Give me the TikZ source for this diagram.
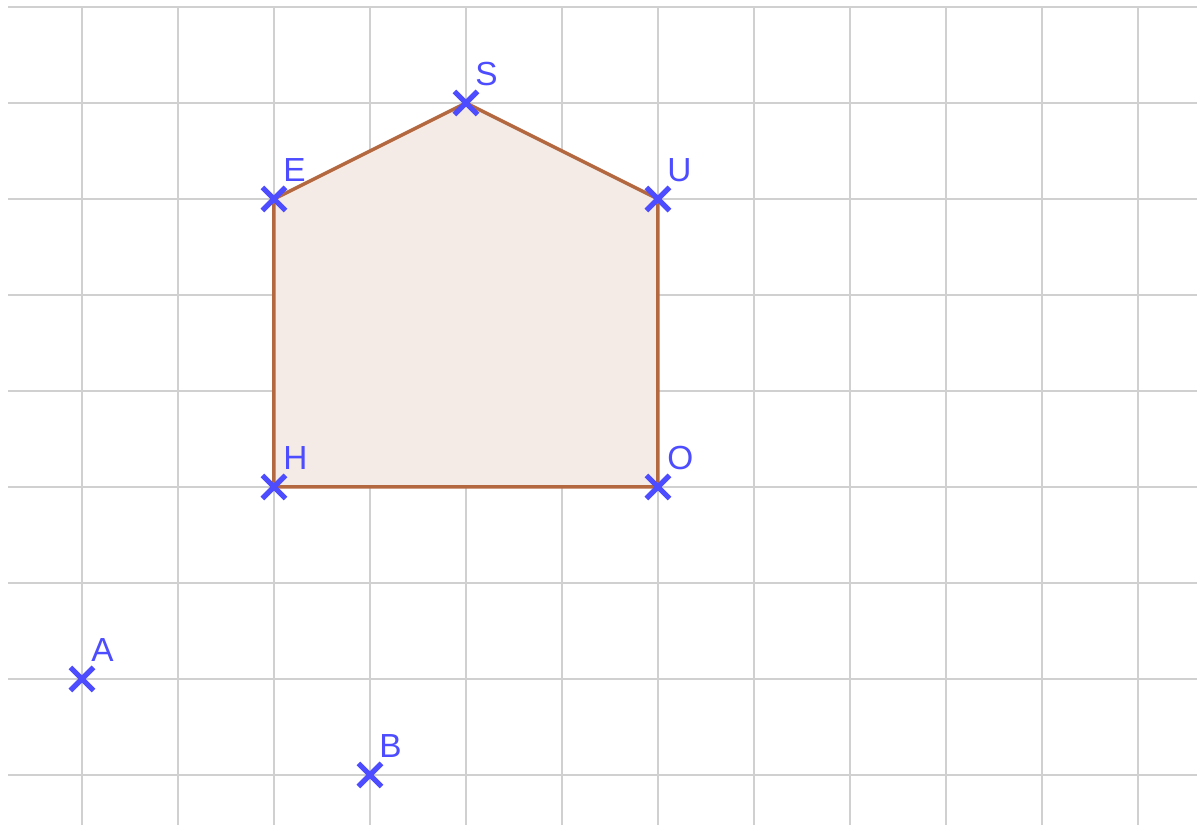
\documentclass[tikz,border=0pt]{standalone}
\usepackage{fontspec}
\setmainfont{Liberation Sans}
\usetikzlibrary{positioning, calc}
\definecolor{gridgray}{RGB}{208, 208, 208}
\definecolor{edgebrown}{RGB}{180, 104, 64}
\definecolor{fillbrown}{RGB}{245, 235, 230}
\definecolor{pointblue}{RGB}{77, 77, 255}
\tikzset{
  gridline/.style  = {gridgray, line width=0.6pt},
  polyedge/.style  = {draw=edgebrown, fill=fillbrown, line width=1pt, line join=round},
  ptmark/.style    = {pointblue, line width=1.5pt},
  ptlabel/.style   = {anchor=south west, inner sep=0pt, text=pointblue, font=\fontsize{9.5}{10}\selectfont},
}

\begin{document}
\begin{tikzpicture}[x=0.96cm, y=0.96cm]

% ================= Cadre =================
\useasboundingbox (-0.854, -1.52) rectangle (11.615, 7.073);

% ================= Quadrillage =================
\foreach \y in {-1,...,7}
  \draw [gridline] (-0.77, \y) -- (11.615, \y);
\foreach \x in {0,...,11}
  \draw [gridline] (\x, 7) -- (\x, -1.52);

% ================= Points =================
\coordinate (S) at (4, 6);
\coordinate (E) at (2, 5);
\coordinate (U) at (6, 5);
\coordinate (H) at (2, 2);
\coordinate (O) at (6, 2);
\coordinate (A) at (0, 0);
\coordinate (B) at (3, -1);

% ================= Polygone HESUO =================
\draw [polyedge] (H) -- (E) -- (S) -- (U) -- (O) -- cycle;

% ================= Croix et noms =================
\foreach \p in {S, E, U, H, O, A, B} {
  \draw [ptmark] ([shift={(-0.12,-0.12)}]\p) -- ([shift={(0.12,0.12)}]\p);
  \draw [ptmark] ([shift={(-0.12,0.12)}]\p) -- ([shift={(0.12,-0.12)}]\p);
  \node (lab\p) [ptlabel] at ([shift={(0.09,0.17)}]\p) {\p};
}

\end{tikzpicture}
\end{document}
